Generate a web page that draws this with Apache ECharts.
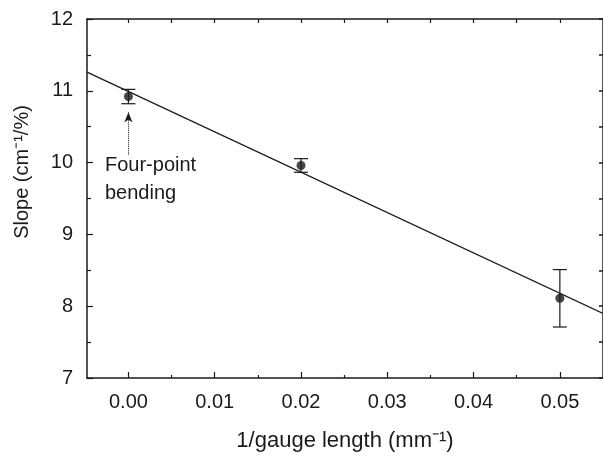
<!DOCTYPE html>
<html>
<head>
<meta charset="utf-8">
<script src="https://cdn.jsdelivr.net/npm/echarts@6/dist/echarts.min.js"></script>
<style>
  html, body { margin: 0; padding: 0; background: #fff; }
  #chart { width: 603px; height: 457px; }
</style>
</head>
<body>
<div id="chart"></div>
<script>
// measured points (x = 1/gauge length, y = slope, err = half error bar)
const xVals = [0.0, 0.02, 0.05];
const yVals = [10.92, 9.96, 8.11];
const errVals = [0.1, 0.095, 0.4];

// straight-line fit, end points at the axis edges
const fitX = [-0.0048, 0.055];
const fitY = [11.26, 7.9];

const xMajorTicks = [0, 0.01, 0.02, 0.03, 0.04, 0.05];
const xMinorTicks = [0.005, 0.015, 0.025, 0.035, 0.045];
const xTopTicks = [0, 0.005, 0.01, 0.015, 0.02, 0.025, 0.03, 0.035, 0.04, 0.045, 0.05];

// annotation arrow (x, y from -> y to)
const arrowX = 0;
const arrowY = [10.11, 10.7];

const font = "'Liberation Sans', Arial, sans-serif";
const ink = "#1a1a1a";

let chart = echarts.init(document.getElementById("chart"));

let points = xVals.map((x, i) => [x, yVals[i], errVals[i]]);
let fitLine = fitX.map((x, i) => [x, fitY[i]]);

function errorBar(params, api) {
    let x = api.value(0);
    let y = api.value(1);
    let e = api.value(2);
    let top = api.coord([x, y + e]);
    let bot = api.coord([x, y - e]);
    let half = 7;
    let style = { stroke: ink, lineWidth: 1.2 };
    return {
        type: "group",
        children: [
            { type: "line", shape: { x1: top[0], y1: top[1], x2: bot[0], y2: bot[1] }, style: style },
            { type: "line", shape: { x1: top[0] - half, y1: top[1], x2: top[0] + half, y2: top[1] }, style: style },
            { type: "line", shape: { x1: bot[0] - half, y1: bot[1], x2: bot[0] + half, y2: bot[1] }, style: style },
        ],
    };
}

let options = {
    animation: false,
    backgroundColor: "#fff",
    grid: {
        left: 87,
        top: 19,
        width: 518,
        bottom: 79,
    },
    xAxis: [
        {
            type: "value",
            position: "bottom",
            min: -0.0048,
            max: 0.055,
            name: "1/gauge length (mm\u207B\u00B9)",
            nameLocation: "middle",
            nameGap: 52,
            nameTextStyle: { fontFamily: font, fontSize: 22, color: ink },
            axisLine: { show: true, onZero: false, lineStyle: { color: ink, width: 1.5 } },
            axisTick: { show: true, inside: true, length: 6, customValues: xMajorTicks, lineStyle: { color: ink, width: 1.2 } },
            axisLabel: {
                customValues: xMajorTicks,
                margin: 14,
                fontFamily: font,
                fontSize: 20,
                color: ink,
                formatter: (v) => v.toFixed(2),
            },
            splitLine: { show: false },
        },
        {
            type: "value",
            position: "bottom",
            min: -0.0048,
            max: 0.055,
            axisLine: { show: false, onZero: false },
            axisTick: { show: true, inside: true, length: 3, customValues: xMinorTicks, lineStyle: { color: ink, width: 1.2 } },
            axisLabel: { show: false },
            splitLine: { show: false },
        },
        {
            type: "value",
            position: "top",
            min: -0.0048,
            max: 0.055,
            axisLine: { show: true, onZero: false, lineStyle: { color: ink, width: 1.5 } },
            axisTick: { show: true, inside: true, length: 4, customValues: xTopTicks, lineStyle: { color: ink, width: 1.2 } },
            axisLabel: { show: false },
            splitLine: { show: false },
        },
    ],
    yAxis: [
        {
            type: "value",
            position: "left",
            min: 7,
            max: 12,
            interval: 1,
            axisLine: { show: true, onZero: false, lineStyle: { color: ink, width: 1.5 } },
            axisTick: { show: true, inside: true, length: 6, lineStyle: { color: ink, width: 1.2 } },
            minorTick: { show: true, splitNumber: 2, length: 4, lineStyle: { color: ink, width: 1.2 } },
            axisLabel: { margin: 14, fontFamily: font, fontSize: 20, color: ink },
            splitLine: { show: false },
            minorSplitLine: { show: false },
        },
        {
            type: "value",
            position: "right",
            min: 7,
            max: 12,
            interval: 0.5,
            axisLine: { show: true, onZero: false, lineStyle: { color: ink, width: 1.5 } },
            axisTick: { show: true, inside: true, length: 4, lineStyle: { color: ink, width: 1.5 } },
            axisLabel: { show: false },
            splitLine: { show: false },
        },
    ],
    graphic: [
        {
            type: "text",
            left: 105,
            top: 151,
            style: {
                text: "Four-point\nbending",
                font: "20px " + font,
                lineHeight: 28,
                fill: ink,
            },
        },
        {
            type: "text",
            x: 22,
            y: 172,
            rotation: Math.PI / 2,
            style: {
                text: "Slope (cm\u207B\u00B9/%)",
                font: "20px " + font,
                fill: ink,
                align: "center",
                verticalAlign: "middle",
            },
        },
    ],
    series: [
        {
            type: "line",
            data: fitLine,
            symbol: "none",
            lineStyle: { color: ink, width: 1.3 },
            silent: true,
            z: 2,
        },
        {
            type: "custom",
            data: points,
            renderItem: errorBar,
            encode: { x: 0, y: 1 },
            z: 3,
        },
        {
            type: "scatter",
            data: points.map((p) => [p[0], p[1]]),
            symbol: "circle",
            symbolSize: 9,
            itemStyle: { color: ink },
            z: 4,
            markLine: {
                silent: true,
                symbol: ["none", "arrow"],
                symbolSize: [6, 10],
                label: { show: false },
                lineStyle: { color: ink, width: 1, type: "dotted" },
                data: [[{ coord: [arrowX, arrowY[0]] }, { coord: [arrowX, arrowY[1]] }]],
            },
        },
    ],
};
chart.setOption(options);
</script>
</body>
</html>
